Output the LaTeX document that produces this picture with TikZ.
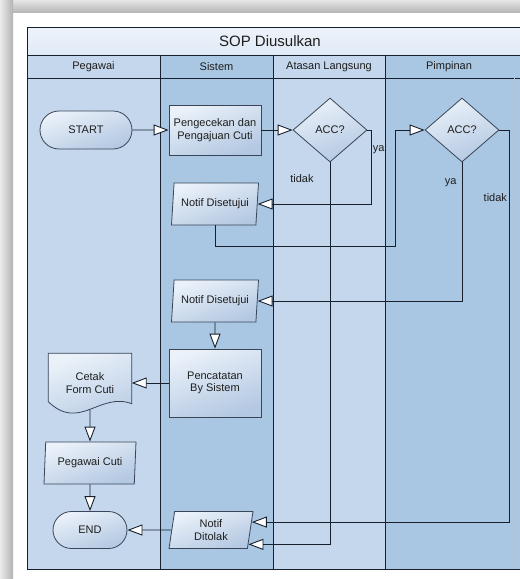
\documentclass[tikz,border=0pt]{standalone}
\usepackage{fontspec}
\setmainfont{Liberation Sans}
\usetikzlibrary{positioning, shapes.geometric, shapes.misc, arrows.meta}

\definecolor{laneA}{HTML}{C4D7EC}
\definecolor{laneB}{HTML}{A9C6E2}
\definecolor{titlec}{HTML}{E0EAF6}
\definecolor{linec}{HTML}{18202E}
\definecolor{shapec}{HTML}{3A4658}
\definecolor{fillA}{HTML}{EAF1F9}
\definecolor{fillB}{HTML}{B3C8E2}
\definecolor{textc}{HTML}{1E1E1E}

\tikzset{
  base/.style={draw=shapec, line width=0.8pt, top color=fillA, bottom color=fillB, shading angle=20, text=textc, inner sep=1pt},
  term/.style={base, rounded rectangle, minimum width=94pt, minimum height=38pt},
  proc/.style={base, rectangle, minimum width=92pt, minimum height=50pt, align=center},
  decide/.style={base, diamond, minimum width=74pt, minimum height=64pt},
  io/.style={base, trapezium, trapezium left angle=78, trapezium right angle=102, trapezium stretches body, minimum width=87pt, minimum height=42pt, align=center},
  flow/.style={draw=linec, line width=0.9pt, -{Triangle[length=15pt, width=11pt, fill=white]}},
  lbl/.style={text=textc, inner sep=0pt},
  lane/.style={draw=linec, line width=0.8pt}
}

\begin{document}
\begin{tikzpicture}
	[x=1pt, y=-1pt, on grid, font=\fontsize{11}{12.5}\selectfont]
   \useasboundingbox (0,0) rectangle (520,579);
   \fill[white] (0,0) rectangle (520,579);
   \shade[top color=black!10, bottom color=black!28] (0,0) rectangle (520,12);
   \shade[left color=black!8, right color=black!30] (0,0) rectangle (13,579);

   \shade[top color=titlec!60, bottom color=titlec] (27,27) rectangle (520,55);
   \fill[laneA] (27,55) rectangle (160,569);
   \fill[laneB] (160,55) rectangle (273,569);
   \fill[laneA] (273,55) rectangle (385,569);
   \fill[laneB] (385,55) rectangle (520,569);
   \draw[lane] (520,27) -- (27,27) -- (27,569) -- (520,569);
   \draw[lane] (27,55) -- (520,55) (27,78) -- (520,78);
   \draw[lane] (160,55) -- (160,569) (273,55) -- (273,569) (385,55) -- (385,569);
   \draw[laneB!80!black!60, line width=0.6pt] (514,78) -- (514,569);

   \node[text=textc, font=\fontsize{15}{17}\selectfont] (title) at (270,41) {SOP Diusulkan};
   \node[text=textc] (h_1) at (93.5,66.5) {Pegawai};
   \node[text=textc] (h_2) at (216.5,66.5) {Sistem};
   \node[text=textc] (h_3) at (329,66.5) {Atasan Langsung};
   \node[text=textc] (h_4) at (449,66.5) {Pimpinan};

   \node[term] (start) at (86,130) {START};
   \node[proc] (cek) [right=129pt of start] {Pengecekan dan\\Pengajuan Cuti};
   \node[decide] (acc_1) [right=115pt of cek] {ACC?};
   \node[decide] (acc_2) [right=132pt of acc_1] {ACC?};
   \node[io] (notif_1) [below=74pt of cek] {Notif Disetujui};
   \node[io] (notif_2) [below=97pt of notif_1] {Notif Disetujui};
   \node[proc, minimum height=68pt] (catat) [below=82pt of notif_2] {Pencatatan\\By Sistem};
   \node[minimum width=83pt, minimum height=59pt] (cetak) [left=125pt of catat] {};
   \path[base] (cetak.north west) -- ([shift={(0,-11)}]cetak.south west)
      .. controls ([shift={(31,19)}]cetak.south west) and ([shift={(-32,-21)}]cetak.south east)
      .. ([shift={(0,-9)}]cetak.south east) -- (cetak.north east) -- cycle;
   \node[align=center, text=textc] (cetak_t) at (cetak) {Cetak\\Form Cuti};
   \node[io, trapezium left angle=82, trapezium right angle=98, minimum width=92pt] (cuti) [below=80pt of cetak] {Pegawai Cuti};
   \node[term, minimum width=76pt, minimum height=37pt] (end) [below=67pt of cuti] {END};
   \node[io, trapezium left angle=76, trapezium right angle=104, minimum width=84pt, minimum height=37pt] (tolak) [right=121pt of end] {Notif\\Ditolak};

    \path[flow]
    (start) edge (cek)
    (cek) edge (acc_1)
    (notif_2) edge (catat)
    (catat) edge (cetak)
    (cuti) edge (end)
    (tolak) edge (end);
    \draw[flow] ([yshift=3pt]cetak.south) -- (cuti);
    \draw[flow] (acc_1.east) -- ++(4,0) |- node[lbl, pos=0.13, right=1pt] {ya} (notif_1.east);
    \draw[flow] (acc_1.south) |- node[lbl, pos=0.021, left=16pt] {tidak} (tolak.-21);
    \draw[flow] (notif_1.south) -- ++(0,21) -| ([xshift=-29pt]acc_2.west) -- (acc_2.west);
    \draw[flow] (acc_2.south) |- node[lbl, pos=0.072, left=5pt] {ya} (notif_2.east);
    \draw[flow] (acc_2.east) -- ++(10,0) |- node[lbl, pos=0.086, left=2pt] {tidak} (tolak.11);
\end{tikzpicture}
\end{document}
